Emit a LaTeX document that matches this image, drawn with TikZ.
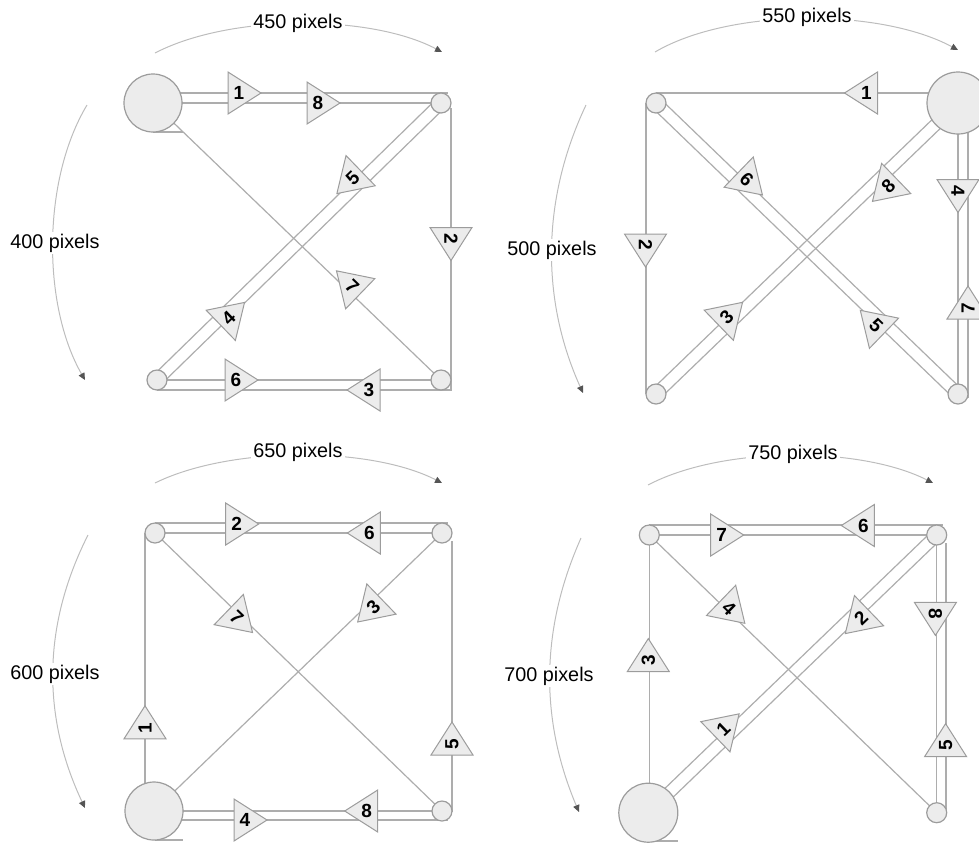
\documentclass[tikz,border=0pt]{standalone}
\usepackage{fontspec}
\setmainfont{Liberation Sans}
\usetikzlibrary{arrows.meta}
\definecolor{ln}{HTML}{ADADAD}
\definecolor{cfill}{HTML}{ECECEC}
\definecolor{cdraw}{HTML}{9C9C9C}
\definecolor{arcc}{HTML}{BDBDBD}
\definecolor{tipc}{HTML}{555555}
\pgfdeclarelayer{bg}
\pgfsetlayers{bg,main}
\tikzset{
  trk/.style={draw=ln, line width=0.6pt},
  bigc/.style={circle, draw=cdraw, fill=cfill, line width=0.6pt, minimum size=#1, inner sep=0pt},
  smallc/.style={circle, draw=cdraw, fill=cfill, line width=0.6pt, minimum size=10pt, inner sep=0pt},
  dimarc/.style={draw=arcc, line width=0.5pt, -{Triangle[length=3.5pt,width=3.2pt,color=tipc]}},
  dimlbl/.style={fill=white, inner sep=1pt, font=\fontsize{9.9}{12}\selectfont},
  trishape/.style={draw=cdraw, fill=cfill, line width=0.5pt},
  numlbl/.style={font=\bfseries\fontsize{9.5}{10}\selectfont, inner sep=0pt},
}
\newcommand\arrtri[6]{%
  \path[trishape, shift={(#2,#3)}, rotate=#4] (22,0) -- (-11,21) -- (-11,-21) -- cycle;
  \node[numlbl, rotate=#5] (#1) at (#2,#3) {#6};
}
\begin{document}
\begin{tikzpicture}[x=0.5pt, y=-0.5pt]
\useasboundingbox (0,0) rectangle (979,842);
\clip (0,0) rectangle (979,842);

% ---------------- panel 1 ----------------
\node[bigc=29pt] (A1) at (153,103) {};
\node[smallc] (B1) at (441,103) {};
\node[smallc] (C1) at (157,380) {};
\node[smallc] (D1) at (441,380) {};
\begin{pgfonlayer}{bg}
  \draw[trk] (153,93) -- (448,93);
  \draw[trk] (451,108) -- (451,390) -- (157,390);
  \draw[trk] (A1.center) -- (B1.center);
  \draw[trk] (C1.center) -- (D1.center);
  \draw[trk] (A1.center) -- (D1.center);
  \draw[trk] (436.8,98.7) -- (152.8,375.7);
  \draw[trk] (445.2,107.3) -- (161.2,384.3);
  \draw[trk] (153,132) -- (183,132);
\end{pgfonlayer}
\arrtri{p1a}{239}{93}{0}{0}{1}
\arrtri{p1b}{451}{238.5}{-90}{-90}{2}
\arrtri{p1c}{369}{390}{180}{0}{3}
\arrtri{p1d}{228.7}{317.7}{44}{44}{4}
\arrtri{p1e}{352.7}{178.3}{224}{44}{5}
\arrtri{p1f}{236}{380}{0}{0}{6}
\arrtri{p1g}{352.3}{286.1}{136}{-44}{7}
\arrtri{p1h}{318}{103}{0}{0}{8}
\draw[dimarc] (155,53) .. controls (230,14) and (370,14) .. (442,52);
\node[dimlbl] (p1w) at (298,23) {450 pixels};
\draw[dimarc] (87,105) .. controls (42,180) and (42,305) .. (85,380);
\node[dimlbl] (p1v) at (55,243) {400 pixels};

% ---------------- panel 2 ----------------
\node[bigc=31pt] (A2) at (958,103) {};
\node[smallc] (B2) at (656,103) {};
\node[smallc] (C2) at (656,394) {};
\node[smallc] (D2) at (958,394) {};
\begin{pgfonlayer}{bg}
  \draw[trk] (656,93) -- (958,93);
  \draw[trk] (646,103) -- (646,394);
  \draw[trk] (A2.center) -- (D2.center);
  \draw[trk] (968,103) -- (968,398);
  \draw[trk] (651.8,107.3) -- (953.8,398.3);
  \draw[trk] (660.2,98.7) -- (962.2,389.7);
  \draw[trk] (962.2,107.3) -- (660.2,398.3);
  \draw[trk] (953.8,98.7) -- (651.8,389.7);
\end{pgfonlayer}
\arrtri{p2a}{866.5}{93}{180}{0}{1}
\arrtri{p2b}{645.5}{245}{-90}{-90}{2}
\arrtri{p2c}{726.7}{317.6}{44}{44}{3}
\arrtri{p2d}{958}{190.5}{-90}{-90}{4}
\arrtri{p2e}{876.1}{325.6}{136}{-44}{5}
\arrtri{p2f}{746.6}{179.7}{-44}{-44}{6}
\arrtri{p2g}{968}{308}{90}{90}{7}
\arrtri{p2h}{888.3}{186.1}{224}{44}{8}
\draw[dimarc] (655,52) .. controls (730,8) and (880,8) .. (958,50);
\node[dimlbl] (p2w) at (807,17) {550 pixels};
\draw[dimarc] (586,105) .. controls (541,200) and (541,300) .. (583,393);
\node[dimlbl] (p2v) at (552,250) {500 pixels};

% ---------------- panel 3 ----------------
\node[bigc=29pt] (A3) at (154,811) {};
\node[smallc] (B3) at (155,533) {};
\node[smallc] (C3) at (442,533) {};
\node[smallc] (D3) at (442,811) {};
\begin{pgfonlayer}{bg}
  \draw[trk] (155,523) -- (448,523);
  \draw[trk] (452,541) -- (452,812);
  \draw[trk] (154,820) -- (448,820);
  \draw[trk] (B3.center) -- (C3.center);
  \draw[trk] (145,533) -- (145,811);
  \draw[trk] (A3.center) -- (D3.center);
  \draw[trk] (B3.center) -- (D3.center);
  \draw[trk] (A3.center) -- (C3.center);
  \draw[trk] (155,840) -- (183,840);
\end{pgfonlayer}
\arrtri{p3a}{145}{727.8}{90}{90}{1}
\arrtri{p3b}{236.7}{524}{0}{0}{2}
\arrtri{p3c}{373.5}{606.7}{224}{44}{3}
\arrtri{p3d}{245}{820}{0}{0}{4}
\arrtri{p3e}{452}{744}{90}{90}{5}
\arrtri{p3f}{369.3}{533}{180}{0}{6}
\arrtri{p3g}{236.7}{617.2}{-44}{-44}{7}
\arrtri{p3h}{366.7}{811}{180}{0}{8}
\draw[dimarc] (155,483) .. controls (230,446) and (370,446) .. (442,483);
\node[dimlbl] (p3w) at (298,452) {650 pixels};
\draw[dimarc] (88,535) .. controls (42,626) and (42,717) .. (85,808);
\node[dimlbl] (p3v) at (55,674) {600 pixels};

% ---------------- panel 4 ----------------
\node[bigc=29.5pt] (A4) at (648.3,812.7) {};
\node[smallc] (B4) at (649.3,535) {};
\node[smallc] (C4) at (936.7,535) {};
\node[smallc] (D4) at (936.7,812.7) {};
\begin{pgfonlayer}{bg}
  \draw[trk] (649,525) -- (943,525);
  \draw[trk] (946,543) -- (946,813);
  \draw[trk] (B4.center) -- (C4.center);
  \draw[trk] (B4.center) -- (649.3,812.7);
  \draw[trk] (C4.center) -- (D4.center);
  \draw[trk] (B4.center) -- (D4.center);
  \draw[trk] (644.1,808.4) -- (932.5,530.7);
  \draw[trk] (652.5,817) -- (940.9,539.3);
  \draw[trk] (653,841) -- (678,841);
\end{pgfonlayer}
\arrtri{p4a}{723.3}{729.1}{44}{44}{1}
\arrtri{p4b}{861.1}{618.3}{224}{44}{2}
\arrtri{p4c}{648.3}{660.6}{90}{90}{3}
\arrtri{p4d}{729}{608}{-44}{-44}{4}
\arrtri{p4e}{945.6}{745.6}{90}{90}{5}
\arrtri{p4f}{863.3}{525.5}{180}{0}{6}
\arrtri{p4g}{721.7}{535}{0}{0}{7}
\arrtri{p4h}{935.4}{613.4}{-90}{-90}{8}
\draw[dimarc] (648,485) .. controls (722,446) and (860,446) .. (933,483);
\node[dimlbl] (p4w) at (793,454) {750 pixels};
\draw[dimarc] (581,538) .. controls (540,630) and (540,720) .. (579,812);
\node[dimlbl] (p4v) at (549,676) {700 pixels};
\end{tikzpicture}
\end{document}
